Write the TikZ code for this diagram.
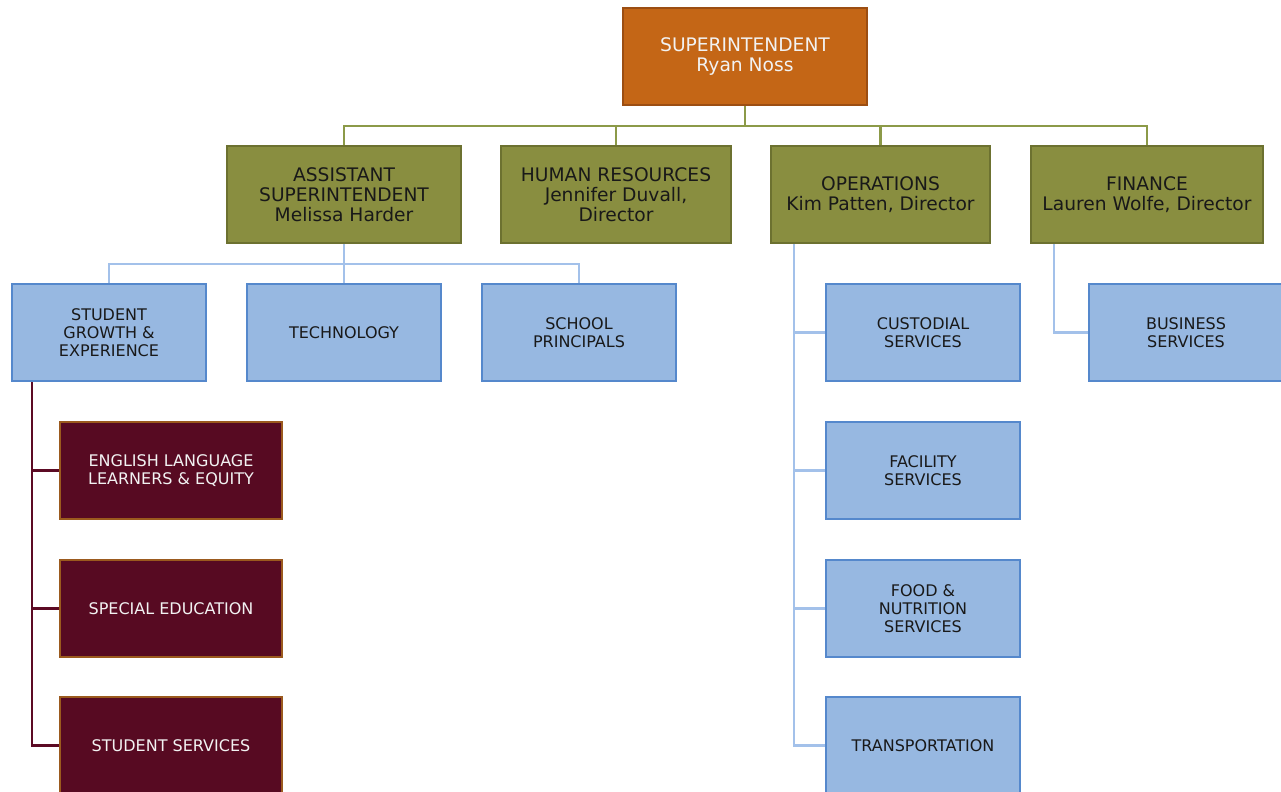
\documentclass[tikz,border=0pt]{standalone}
\usepackage{fontspec}
\setmainfont{DejaVu Sans}

\definecolor{supfill}{HTML}{C46616}
\definecolor{supline}{HTML}{9C4E12}
\definecolor{olivefill}{HTML}{898E40}
\definecolor{oliveline}{HTML}{6C7130}
\definecolor{olivelink}{HTML}{8C9A48}
\definecolor{bluefill}{HTML}{97B8E1}
\definecolor{blueline}{HTML}{5588CC}
\definecolor{bluelink}{HTML}{A3C1EA}
\definecolor{maroonfill}{HTML}{570A22}
\definecolor{maroonline}{HTML}{9B5A1E}
\definecolor{maroonlink}{HTML}{5C0A24}

\begin{document}
\begin{tikzpicture}[x=0.75pt, y=-0.75pt,
    topbox/.style={draw=supline, fill=supfill, line width=1.8pt, text=white!95!black,
      minimum width=183pt, minimum height=72.75pt, align=center,
      font=\fontsize{14}{15}\selectfont},
    deptbox/.style={draw=oliveline, fill=olivefill, line width=1.8pt, text=black!90,
      minimum height=72.75pt, align=center, inner sep=0pt,
      font=\fontsize{14}{15}\selectfont},
    unitbox/.style={draw=blueline, fill=bluefill, line width=1.8pt, text=black!90,
      minimum width=145.5pt, minimum height=72.75pt, align=center,
      font=\fontsize{12}{13.5}\selectfont},
    subbox/.style={draw=maroonline, fill=maroonfill, line width=1.8pt, text=white!95!black,
      minimum width=166.5pt, minimum height=72.75pt, align=center,
      font=\fontsize{12}{13.5}\selectfont},
    olivewire/.style={draw=olivelink, line width=2pt},
    bluewire/.style={draw=bluelink, line width=2pt},
    maroonwire/.style={draw=maroonlink, line width=2pt}]
  \useasboundingbox (0,0) rectangle (1281,792);
  \clip (0,0) rectangle (1281,792);

  \node[topbox] (super) at (745,56.5) {SUPERINTENDENT\\Ryan Noss};

  \node[deptbox, minimum width=175.5pt] (asst) at (344,194.5) {ASSISTANT\\SUPERINTENDENT\\Melissa Harder};
  \node[deptbox, minimum width=172.5pt] (hr) at (616,194.5) {HUMAN RESOURCES\\Jennifer Duvall,\\Director};
  \node[deptbox, minimum width=164.25pt] (ops) at (880.5,194.5) {OPERATIONS\\Kim Patten, Director};
  \node[deptbox, minimum width=174pt] (fin) at (1147,194.5) {FINANCE\\Lauren Wolfe, Director};

  \node[unitbox] (growth) at (109,332.5) {STUDENT\\GROWTH \&\\EXPERIENCE};
  \node[unitbox] (tech) at (344,332.5) {TECHNOLOGY};
  \node[unitbox] (principals) at (579,332.5) {SCHOOL\\PRINCIPALS};

  \node[unitbox] (custodial) at (923,332.5) {CUSTODIAL\\SERVICES};
  \node[unitbox] (facility) at (923,470.5) {FACILITY\\SERVICES};
  \node[unitbox] (food) at (923,608.5) {FOOD \&\\NUTRITION\\SERVICES};
  \node[unitbox] (transport) at (923,745.5) {TRANSPORTATION};

  \node[unitbox] (business) at (1186,332.5) {BUSINESS\\SERVICES};

  \node[subbox] (ell) at (171,470.5) {ENGLISH LANGUAGE\\LEARNERS \& EQUITY};
  \node[subbox] (sped) at (171,608.5) {SPECIAL EDUCATION};
  \node[subbox] (studserv) at (171,745.5) {STUDENT SERVICES};

  \coordinate (topbus) at (745,126);
  \coordinate (asstbus) at (344,264);
  \coordinate (opsrail) at (794,0);
  \coordinate (finrail) at (1054,0);
  \coordinate (growrail) at (32,0);

  \draw[olivewire] (super.south) -- (topbus);
  \draw[olivewire] (asst.north) |- (topbus) -| (fin.north);
  \draw[olivewire] (hr.north) -- (hr.north |- topbus);
  \draw[olivewire] (ops.north) -- (ops.north |- topbus);

  \draw[bluewire] (asst.south) -- (asstbus);
  \draw[bluewire] (growth.north) |- (asstbus) -| (principals.north);
  \draw[bluewire] (tech.north) -- (asstbus);

  \foreach \n in {custodial,facility,food,transport}
    \draw[bluewire] (ops.south -| opsrail) |- (\n.west);
  \draw[bluewire] (fin.south -| finrail) |- (business.west);

  \foreach \n in {ell,sped,studserv}
    \draw[maroonwire] (growth.south -| growrail) |- (\n.west);
\end{tikzpicture}
\end{document}
